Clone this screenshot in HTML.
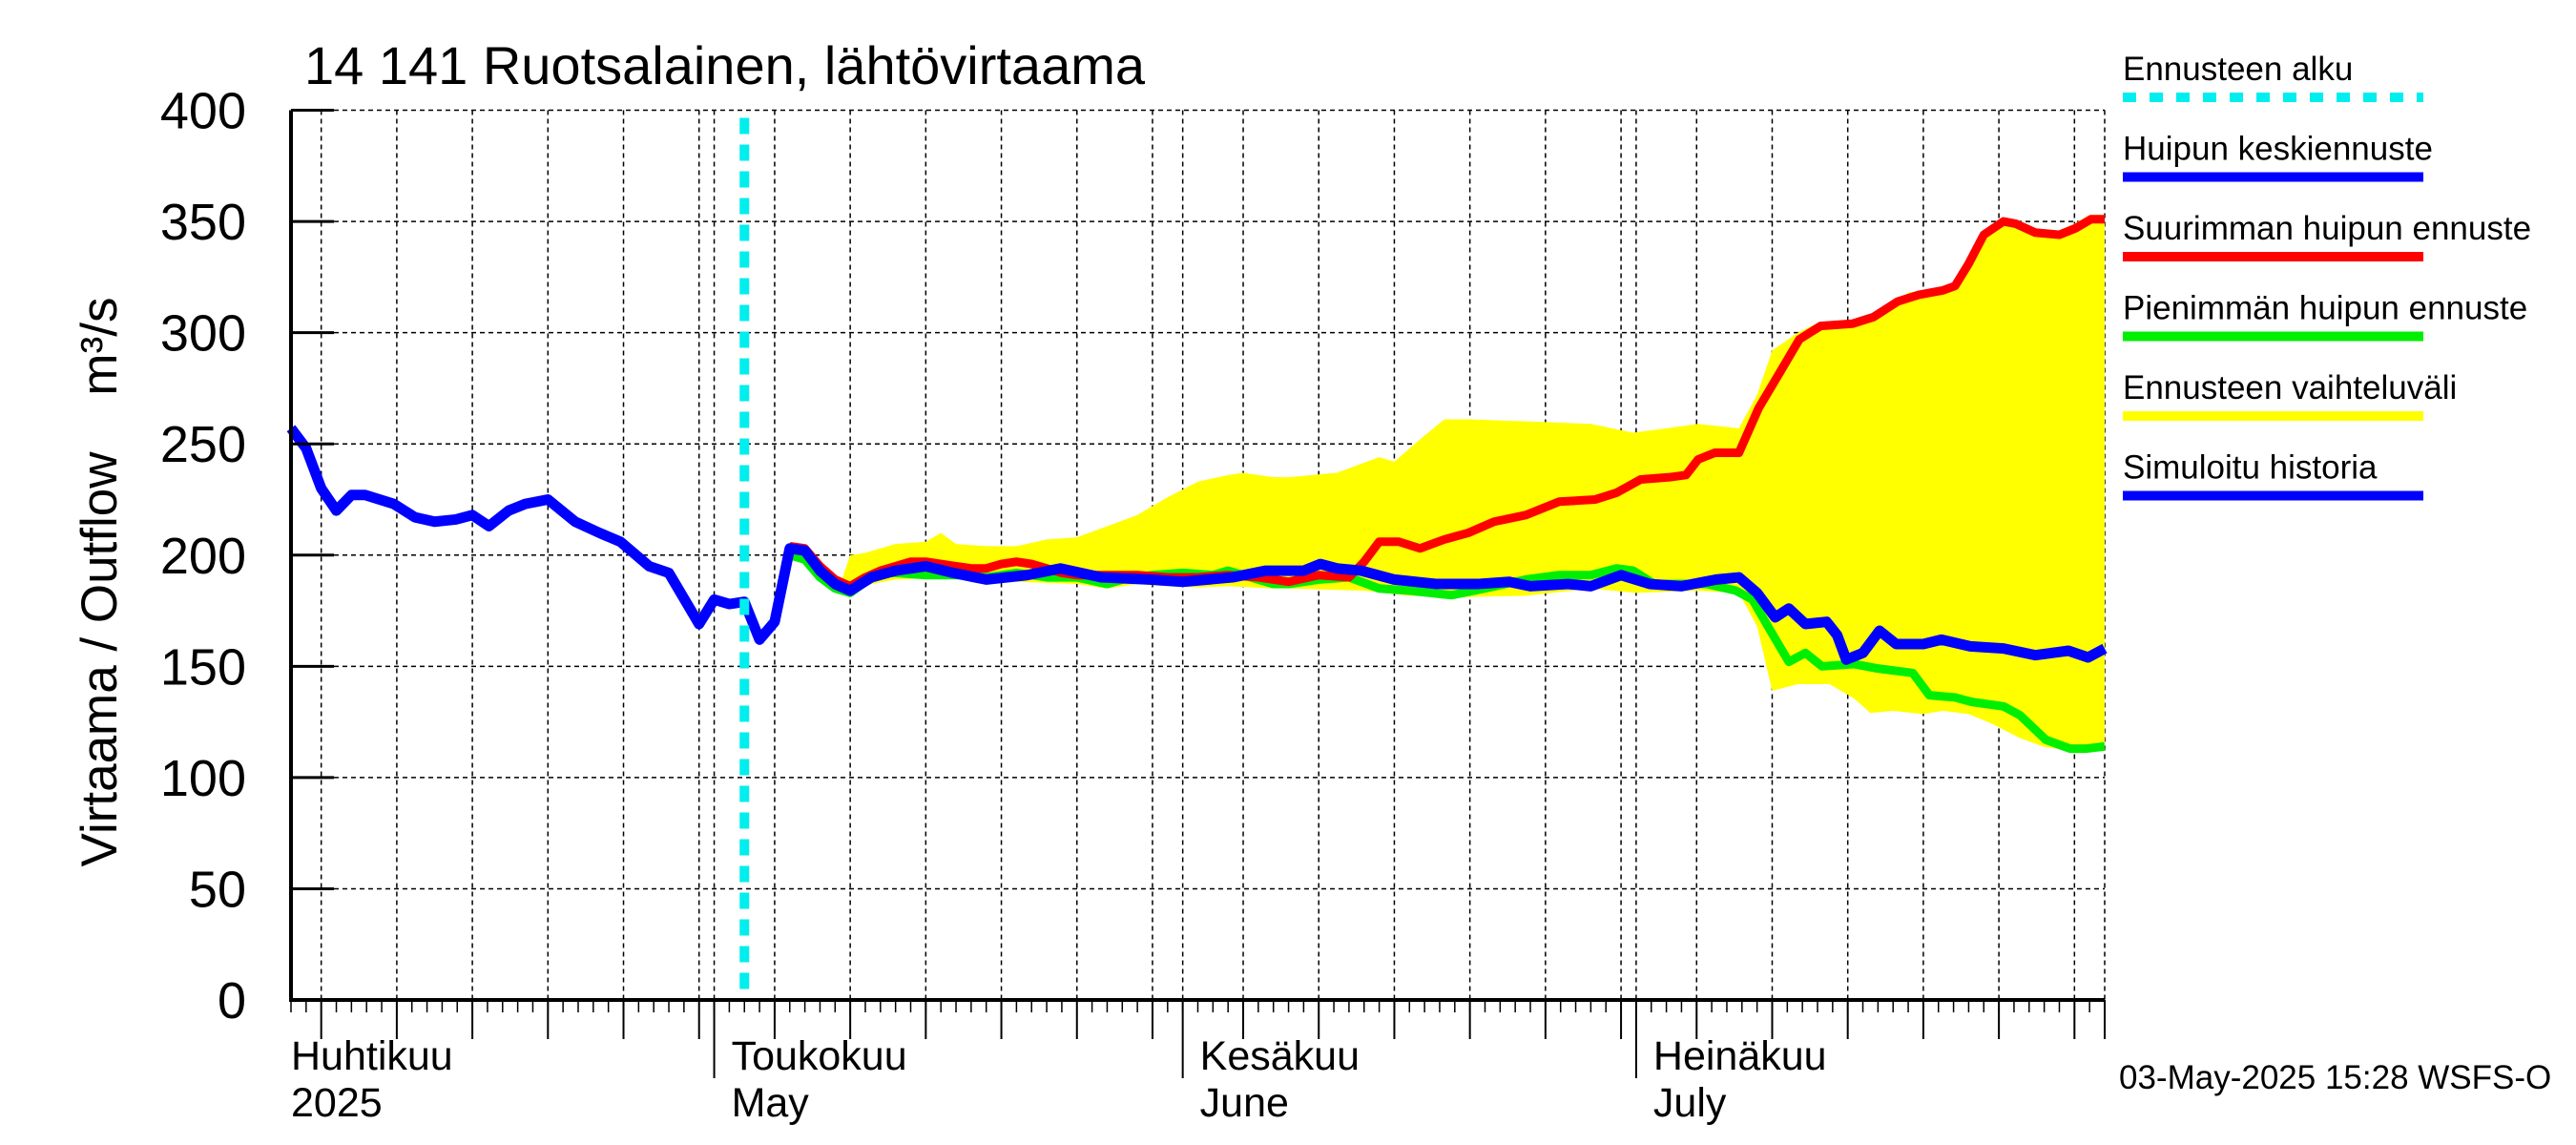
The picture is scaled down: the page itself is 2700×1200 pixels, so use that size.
<!DOCTYPE html>
<html><head><meta charset="utf-8">
<style>
html,body{margin:0;padding:0;background:#fff;}
svg{display:block;font-family:"Liberation Sans",sans-serif;}
</style></head>
<body>
<svg id="chart" width="2700" height="1200" viewBox="0 0 2700 1200" xmlns="http://www.w3.org/2000/svg">
<text x="319" y="88" font-size="56">14 141 Ruotsalainen, lähtövirtaama</text>
<text transform="translate(122,610) rotate(-90)" text-anchor="middle" font-size="53" xml:space="preserve">Virtaama / Outflow    m³/s</text>
<g id="grid"></g>
<g id="band"></g>
<g id="lines"></g>
<g id="axes"></g>
<g id="legend"></g>
<text x="2221" y="1141" font-size="35">03-May-2025 15:28 WSFS-O</text>
</svg>
<script>
// ---- data (day 0 = 3 Apr 2025, values m3/s) ----
const yTicks = [0,50,100,150,200,250,300,350,400];
const monthLabels = ["Huhtikuu","Toukokuu","Kesäkuu","Heinäkuu"];
const monthLabels2 = ["2025","May","June","July"];
const monthDays = [0,28,59,89];
const forecastStartDay = 30;
const blueDays = [0,1,2,3,4,4.9,6.8,8.2,9.5,10.9,12,13.1,14.4,15.5,17,18.8,20.4,21.8,23.7,25,27,28,29,30,31,32,33,34,35,36,37,38.4,40,42,43.8,46,48.7,50.9,53.6,56.8,59,62.3,64.5,66,67,68.1,69.2,70.8,73,75.8,78.5,80.6,82,84.5,86,88,89.9,92,94.3,95.8,97,98.2,99.1,100.2,101.6,102.3,102.9,104,105.1,106.2,108,109.2,111.1,113.3,115.4,117.6,118.9,120];
const blueVals = [257,248,230,220,227,227,223,217,215,216,218,213,220,223,225,215,210,206,195,192,169,180,178,179,162,170,203,202,193,187,184,190,193,195,192,189,191,194,190,189,188,190,193,193,193,196,194,193,189,187,187,188,186,187,186,191,187,186,189,190,183,172,176,169,170,164,153,156,166,160,160,162,159,158,155,157,154,158];
const redDays = [33,34,35,36,37,38,39,40,41,42,43,44,45,46,47,48,49,50,51,52,54,56,58,60,62,64,66,68,70,71,72,73.3,74.7,76.3,77.9,79.6,81.7,83.9,86.3,87.7,89.3,91.2,92.3,93.1,94.2,95.8,97.1,98.5,99.8,101.2,103.3,104.7,106.3,107.7,109.3,110.1,111,112,113.3,114.1,115.4,117,118.1,119.1,120];
const redVals = [204,203,195,189,186,190,193,195,197,197,196,195,194,194,196,197,196,194,192,191,191,191,190,190,191,190,188,191,190,197,206,206,203,207,210,215,218,224,225,228,234,235,236,243,246,246,266,282,297,303,304,307,314,317,319,321,331,344,350,349,345,344,347,351,351];
const greenDays = [33,34,35,36,37,38,39,40,42,45,46,48,50,52,54,55,57,59,61,62,63,64,65,66,68,70,72,74,76.8,79,81.7,83.9,86,87.7,88.8,90.2,92.1,93.7,95.6,96.7,97.8,99.1,100.2,101.3,103.4,105,107.3,108.4,110.1,111.2,113.3,114.4,116.1,117.7,118.8,120];
const greenVals = [200,198,190,185,183,188,192,192,191,191,190,192,190,190,187,189,191,192,191,193,191,189,187,187,189,190,185,184,182,185,189,191,191,194,193,187,187,187,184,180,167,152,156,150,151,149,147,137,136,134,132,128,117,113,113,114];
const bandUpDays = [36,36.5,37,38,40,42,43,44,46,48,50,52,54,56,58,60,62,63,65,66,69.2,72,73,74.7,76.3,77.9,82.2,86,88.8,91,93.1,95.8,97,98,99.7,101.2,103,105,107,109,110,111,112,113,114,115,117,118,119,120];
const bandUpVals = [186,190,200,201,205,206,210,205,204,204,207,208,213,218,226,233,236,237,235,235,237,244,242,252,261,261,260,259,255,257,259,257,272,292,300,305,305,308,318,320,322,332,345,351,351,347,346,349,353,353];
const bandLoDays = [36,40,44,48,52,54,56,58,60,62,65,66,71,74,76.8,81.7,86,89,93,95.8,97,98,99.7,101.8,103.4,104.5,106,108,109.3,111,112.6,114.4,116,117.7,120];
const bandLoVals = [184,189,190,188,187,185,187,186,185.5,186,185,185,184,181.7,181,181.7,185,183,184,183,168,139,142,142,135.6,129,130,128.5,130,128.5,124,117.7,113.8,112,112];

// ---- axis functions ----
const X0=305, X1=2206, Y0=1048, Y1=115.5, DMAX=120, VMAX=400;
const xs = d => X0 + d*(X1-X0)/DMAX;
const ys = v => Y0 - v*(Y0-Y1)/VMAX;
const NS="http://www.w3.org/2000/svg";
function mk(tag, parent, attrs){const e=document.createElementNS(NS,tag);for(const k in attrs)e.setAttribute(k,attrs[k]);parent.appendChild(e);return e;}
const grid=document.getElementById('grid'), axes=document.getElementById('axes'), band=document.getElementById('band'), lines=document.getElementById('lines'), legend=document.getElementById('legend');

yTicks.forEach(v=>{
  if(v>0){const g=mk('line',grid,{x1:X0,x2:X1,y1:ys(v),y2:ys(v),stroke:'#000','stroke-width':1.5,'stroke-dasharray':'5,4'});
  
  }
  const t=mk('line',axes,{x1:X0,x2:X0+45,y1:ys(v),y2:ys(v),stroke:'#000','stroke-width':3});
  
  
  const l=mk('text',axes,{x:258,y:ys(v)+19,'text-anchor':'end','font-size':54});
  
  
  l.textContent=v;
});
const gridDays=[2,7,12,17,22,27,28,32,37,42,47,52,57,59,63,68,73,78,83,88,89,93,98,103,108,113,118,120];
gridDays.forEach(d=>{
  const g=mk('line',grid,{x1:xs(d),x2:xs(d),y1:Y1,y2:Y0,stroke:'#000','stroke-width':1.5,'stroke-dasharray':'5,4'});
  
  
  const isMonth = monthDays.includes(d);
  const t=mk('line',axes,{x1:xs(d),x2:xs(d),y1:Y0,y2:isMonth?1130:1089,stroke:'#000','stroke-width':2});
  
  
});
for(let d=0;d<=DMAX;d++){
  const t=mk('line',axes,{x1:xs(d),x2:xs(d),y1:Y0,y2:1061,stroke:'#000','stroke-width':1.5});
  
  
}
monthDays.forEach((d,i)=>{
  const x = i===0 ? X0 : xs(d)+18;
  const a=mk('text',axes,{x:x,y:1121,'font-size':43});
  
  
  a.textContent=monthLabels[i];
  const b=mk('text',axes,{x:x,y:1170,'font-size':43});
  
  
  b.textContent=monthLabels2[i];
});
let pts=[];
bandUpDays.forEach((d,i)=>pts.push(xs(d)+','+ys(bandUpVals[i])));
for(let i=bandLoDays.length-1;i>=0;i--)pts.push(xs(bandLoDays[i])+','+ys(bandLoVals[i]));
const poly=mk('polygon',band,{points:pts.join(' '),fill:'#ffff00',stroke:'none'});


function series(days,vals,color,w,name){
  const p=mk('polyline',lines,{points:days.map((d,i)=>xs(d)+','+ys(vals[i])).join(' '),fill:'none',stroke:color,'stroke-width':w,'stroke-linejoin':'round'});
  
  
}
series(greenDays,greenVals,'#00ee00',9,'min-peak-forecast-line');
series(redDays,redVals,'#ff0000',9,'max-peak-forecast-line');
series(blueDays,blueVals,'#0000ff',11,'mean-forecast-history-line');
const fs=mk('line',lines,{x1:xs(forecastStartDay),x2:xs(forecastStartDay),y1:Y1+8,y2:Y0,stroke:'#00eeee','stroke-width':10,'stroke-dasharray':'17,11'});


const ax1=mk('line',axes,{x1:X0,x2:X0,y1:Y1,y2:Y0+2,stroke:'#000','stroke-width':4});


const ax2=mk('line',axes,{x1:X0-2,x2:X1,y1:Y0,y2:Y0,stroke:'#000','stroke-width':4});


const legNames=["Ennusteen alku","Huipun keskiennuste","Suurimman huipun ennuste","Pienimmän huipun ennuste","Ennusteen vaihteluväli","Simuloitu historia"];
const legColors=["#00eeee","#0000ff","#ff0000","#00ee00","#ffff00","#0000ff"];
legNames.forEach((n,i)=>{
  const y=84+i*83.5;
  const t=mk('text',legend,{x:2225,y:y,'font-size':35});
  
  
  t.textContent=n;
  const l=mk('line',legend,{x1:2225,x2:2540,y1:y+18,y2:y+18,stroke:legColors[i],'stroke-width':10});
  if(i===0)l.setAttribute('stroke-dasharray','14,14');
  
  
});
</script>
</body></html>
